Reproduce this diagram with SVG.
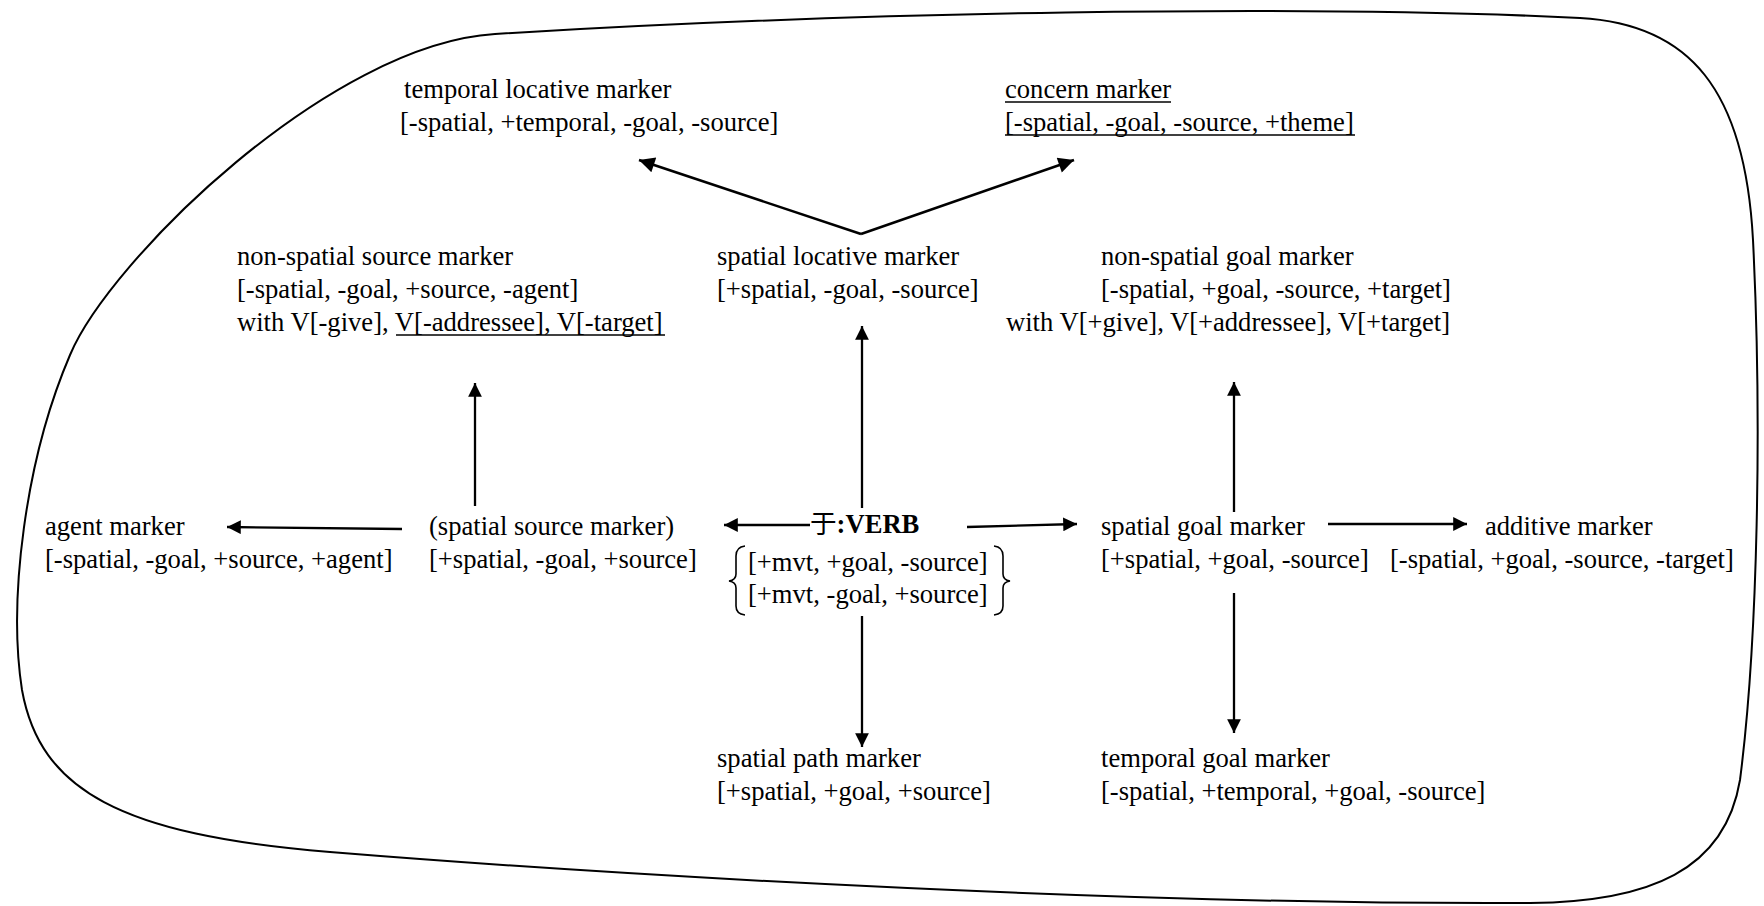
<svg xmlns="http://www.w3.org/2000/svg" width="1764" height="906" viewBox="0 0 1764 906">
<style>
  text { font-family: "Liberation Serif", "Times New Roman", "Noto Sans CJK SC", serif; font-size: 26.6px; fill: #000; }
  .b { font-weight: bold; }
  .n { font-weight: normal; }
  .ul { stroke: #000; stroke-width: 1.6; }
  .c { stroke: #000; stroke-width: 2.3; fill: none; }
  .d { stroke-width: 2.6; }
  .br { stroke: #000; stroke-width: 1.6; fill: none; }
  .blob { stroke: #000; stroke-width: 2; fill: #fff; }
</style>
<defs>
  <marker id="ah" viewBox="0 0 10 10" refX="10" refY="5" markerWidth="7" markerHeight="6" markerUnits="strokeWidth" orient="auto">
    <path d="M0,0 L10,5 L0,10 Z" fill="#000"/>
  </marker>
</defs>
<rect width="1764" height="906" fill="#fff"/>
<path class="blob" d="M495,34 C850,12 1300,4 1580,18 C1690,24 1745,90 1753,240 C1762,420 1758,640 1740,780 C1725,870 1650,902 1530,903 C1150,905 650,878 330,852 C120,835 40,790 22,690 C8,600 25,460 70,355 C110,260 330,44 495,34 Z"/>

<g id="connectors">
  <path class="c d" d="M861,234 L639,160" marker-end="url(#ah)"/>
  <path class="c d" d="M861,234 L1074,160" marker-end="url(#ah)"/>
  <path class="c" d="M862,508 L862,326" marker-end="url(#ah)"/>
  <path class="c" d="M862,616 L862,747" marker-end="url(#ah)"/>
  <path class="c" d="M810,525 L724,525" marker-end="url(#ah)"/>
  <path class="c" d="M967,527 L1077,524" marker-end="url(#ah)"/>
  <path class="c" d="M1234,512 L1234,382" marker-end="url(#ah)"/>
  <path class="c" d="M1234,593 L1234,733" marker-end="url(#ah)"/>
  <path class="c" d="M1328,524 L1467,524" marker-end="url(#ah)"/>
  <path class="c" d="M475,506 L475,383" marker-end="url(#ah)"/>
  <path class="c" d="M402,529 L227,527" marker-end="url(#ah)"/>
</g>

<g id="temporal-locative">
  <text x="404" y="98">temporal locative marker</text>
  <text x="400" y="131">[-spatial, +temporal, -goal, -source]</text>
</g>
<g id="concern">
  <text x="1005" y="98">concern marker</text>
  <line class="ul" x1="1005" y1="102" x2="1171" y2="102"/>
  <text x="1005" y="131">[-spatial, -goal, -source, +theme]</text>
  <line class="ul" x1="1005" y1="135" x2="1355" y2="135"/>
</g>
<g id="non-spatial-source">
  <text x="237" y="265">non-spatial source marker</text>
  <text x="237" y="298">[-spatial, -goal, +source, -agent]</text>
  <text x="237" y="331">with V[-give], V[-addressee], V[-target]</text>
  <line class="ul" x1="396" y1="335" x2="665" y2="335"/>
</g>
<g id="spatial-locative">
  <text x="717" y="265">spatial locative marker</text>
  <text x="717" y="298">[+spatial, -goal, -source]</text>
</g>
<g id="non-spatial-goal">
  <text x="1101" y="265">non-spatial goal marker</text>
  <text x="1101" y="298">[-spatial, +goal, -source, +target]</text>
  <text x="1006" y="331">with V[+give], V[+addressee], V[+target]</text>
</g>
<g id="agent">
  <text x="45" y="535">agent marker</text>
  <text x="45" y="568">[-spatial, -goal, +source, +agent]</text>
</g>
<g id="spatial-source">
  <text x="429" y="535">(spatial source marker)</text>
  <text x="429" y="568">[+spatial, -goal, +source]</text>
</g>
<g id="verb">
  <text x="810" y="533" class="b"><tspan class="n">于</tspan>:VERB</text>
  <path class="br" d="M745,546 Q736,547 736,556 L736,574 Q736,580 729,581 Q736,582 736,588 L736,606 Q736,614 745,615"/>
  <path class="br" d="M994,546 Q1003,547 1003,556 L1003,574 Q1003,580 1010,581 Q1003,582 1003,588 L1003,606 Q1003,614 994,615"/>
  <text x="748" y="571">[+mvt, +goal, -source]</text>
  <text x="748" y="603">[+mvt, -goal, +source]</text>
</g>
<g id="spatial-goal">
  <text x="1101" y="535">spatial goal marker</text>
  <text x="1101" y="568">[+spatial, +goal, -source]</text>
</g>
<g id="additive">
  <text x="1485" y="535">additive marker</text>
  <text x="1390" y="568">[-spatial, +goal, -source, -target]</text>
</g>
<g id="spatial-path">
  <text x="717" y="767">spatial path marker</text>
  <text x="717" y="800">[+spatial, +goal, +source]</text>
</g>
<g id="temporal-goal">
  <text x="1101" y="767">temporal goal marker</text>
  <text x="1101" y="800">[-spatial, +temporal, +goal, -source]</text>
</g>
</svg>
